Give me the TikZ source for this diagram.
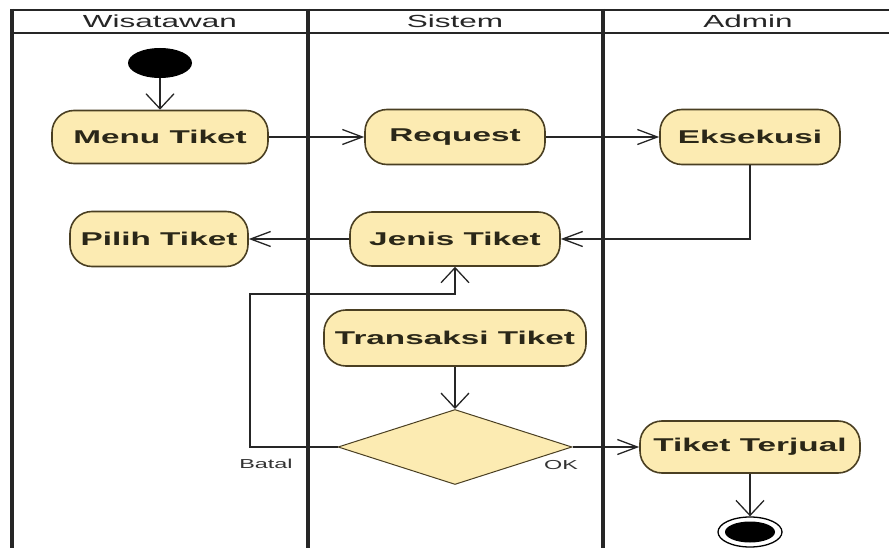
\documentclass[tikz,border=0pt]{standalone}
\usepackage{fontspec}
\setmainfont{Liberation Sans}
\newfontfamily\actfont[FakeStretch=1.8]{Liberation Sans Bold}
\newfontfamily\headfont[FakeStretch=1.8]{Liberation Sans}
\usetikzlibrary{arrows.meta,shapes.geometric}
\definecolor{actfill}{HTML}{FCEBB2}
\definecolor{actdraw}{HTML}{4A3F22}
\definecolor{acttext}{HTML}{2A2718}
\tikzset{
  act/.style={draw=actdraw, line width=1.6pt, fill=actfill, rounded corners=22pt,
    font=\actfont\fontsize{18.5}{21}\selectfont, text=acttext, inner sep=0pt, align=center},
  decision/.style={diamond, draw=actdraw, line width=1pt, fill=actfill, inner sep=0pt, aspect=3.1},
  lane/.style={line width=4pt, black!85},
  hline/.style={line width=2.2pt, black!85},
  flow/.style={line width=1.4pt, black!85},
  harr/.style={flow, -{Straight Barb[length=20pt,width=15pt,line width=1.3pt]}},
  varr/.style={flow, -{Straight Barb[length=15pt,width=28pt,line width=1.3pt]}},
  lbl/.style={font=\headfont\fontsize{13}{15}\selectfont, text=black!80},
  head/.style={font=\headfont\fontsize{17.5}{20}\selectfont, text=black!85}
}
\begin{document}
\begin{tikzpicture}[x=1pt,y=-1pt]
\useasboundingbox (0,0) rectangle (889,548);
% swimlanes
\draw[hline] (12,10) -- (889,10);
\draw[hline] (12,33) -- (889,33);
\draw[lane] (12,9) -- (12,548);
\draw[lane] (308,9) -- (308,548);
\draw[lane] (603,9) -- (603,548);
\node[head] (hw) at (160,21) {Wisatawan};
\node[head] (hs) at (455,21) {Sistem};
\node[head] (ha) at (748,21) {Admin};
% nodes
\node[ellipse, fill=black, minimum width=64pt, minimum height=30pt, inner sep=0pt] (start) at (160,63) {};
\node[act, minimum width=216pt, minimum height=53pt] (menu) at (160,137) {Menu Tiket};
\node[act, minimum width=180pt, minimum height=55pt] (req) at (455,137) {Request};
\node[act, minimum width=180pt, minimum height=55pt] (eks) at (750,137) {Eksekusi};
\node[act, minimum width=178pt, minimum height=55pt] (pilih) at (159,239) {Pilih Tiket};
\node[act, minimum width=210pt, minimum height=54pt] (jenis) at (455,239) {Jenis Tiket};
\node[act, minimum width=262pt, minimum height=56pt] (trans) at (455,338) {Transaksi Tiket};
\node[decision, minimum width=234pt, minimum height=75pt] (dec) at (455,447) {};
\node[act, minimum width=220pt, minimum height=52pt] (jual) at (750,447) {Tiket Terjual};
\node[ellipse, draw=black, line width=1.3pt, fill=white, minimum width=64pt, minimum height=30pt, inner sep=0pt] (end) at (750,532) {};
\node[ellipse, fill=black, minimum width=50pt, minimum height=21pt, inner sep=0pt] (endin) at (end.center) {};
% connectors
\draw[varr] (start) -- (menu);
\draw[harr] (menu) -- (req);
\draw[harr] (req) -- (eks);
\draw[harr] (eks.south) |- (jenis.east);
\draw[harr] (jenis) -- (pilih);
\draw[varr] (trans) -- (dec.north);
\coordinate (b1) at (250,447);
\coordinate (b2) at (250,294);
\draw[varr] (dec.west) -- (b1) -- (b2) -| (jenis.south);
\draw[harr] (dec.east) -- (jual.west);
\draw[varr] (jual) -- (end);
\node[lbl] (batal) at (266,464) {Batal};
\node[lbl] (ok) at (561,465) {OK};
\end{tikzpicture}
\end{document}
